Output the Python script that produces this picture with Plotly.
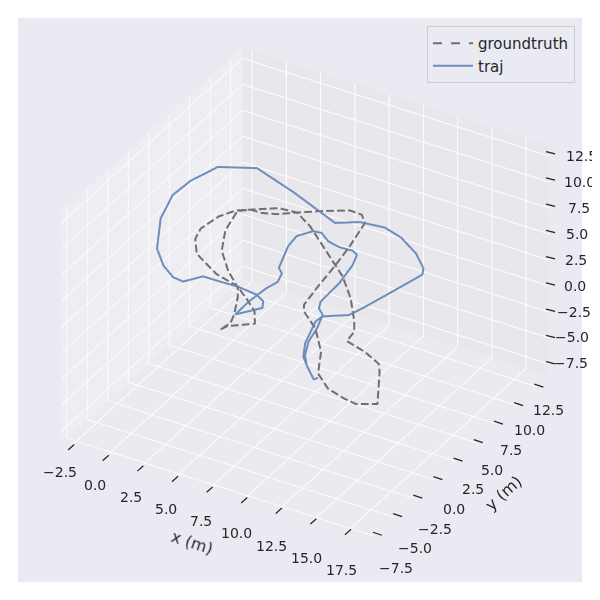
import math
import plotly.graph_objects as go

x_ticks=[-2.5,0,2.5,5,7.5,10,12.5,15,17.5]
y_ticks=[-7.5,-5,-2.5,0,2.5,5,7.5,10,12.5]
z_ticks=[-7.5,-5,-2.5,0,2.5,5,7.5,10,12.5]

gx=[4.79,5.02,6.42,5.91,4.93,3.97,2.4,0.55,-0.11,-0.23,0.29,0.97,1.74,3.21,4.37,5.61,7.47,9.33,10.62,11.73,12.11,12.07,13.47,14.68,15.05,16.18,15.01,14.18,12.89,11.78,11.09,9.87,8.6,8.34,8.39,8.5,8.54,8.46,7.96,7.17,5.75,4.37,3.35,2.5,1.74,1.08,1.19,1.78,2.91,4.09,4.47,4.93,5.07,4.79]
gy=[-2.08,-1.65,-0.63,0.17,0.77,1.26,1.39,2.09,3.01,3.84,5.22,6.12,6.66,7.65,7.93,7.45,6.33,5.21,4.03,2.62,1.97,1.13,1.0,0.66,0.15,-2.0,-2.68,-2.7,-2.55,-1.89,-0.37,0.97,1.71,2.15,3.93,5.6,7.39,9.38,9.83,9.74,8.87,7.93,7.2,6.8,6.66,6.14,4.5,3.08,1.97,1.18,0.53,-0.67,-1.33,-2.08]
gz=[1.27,1.38,1.47,1.88,2.33,2.72,3.11,3.77,4.27,4.6,5.02,5.22,5.25,5.3,5.16,4.72,3.88,3.05,2.33,1.55,1.22,0.91,0.55,0.16,-0.12,-1.17,-1.17,-1.0,-0.67,-0.17,0.55,1.33,1.88,2.11,2.77,3.38,4.05,4.83,5.1,5.24,5.22,5.16,5.1,5.14,5.25,5.19,4.55,3.88,3.22,2.66,2.33,1.77,1.5,1.27]

tx=[4.99,6.21,5.99,5.34,4.05,2.86,1.77,0.89,0.18,-0.8,-1.8,-2.78,-3.04,-2.63,-1.69,0.48,3.42,6.84,8.15,9.71,11.0,12.41,13.4,13.58,12.5,11.63,11.17,10.47,9.78,9.62,9.9,10.32,10.83,11.77,11.94,11.77,10.83,10.35,10.02,9.96,9.75,9.28,9.12,9.41,9.43,9.26,8.89,8.04,7.18,6.5,5.98,5.27,5.2,5.54,5.92,6.03,5.65,5.24,4.99]
ty=[-0.65,0.64,1.1,1.31,1.25,1.01,0.82,-0.15,-0.17,0.28,1.17,3.25,5.15,6.64,8.41,9.56,9.14,8.45,9.29,9.72,9.57,9.01,8.26,7.83,5.55,3.74,2.88,2.43,1.95,1.41,-0.32,-1.25,-1.7,-2.41,-2.17,-2.41,-1.7,-1.09,-0.11,1.03,2.08,2.39,2.88,4.66,6.28,7.06,7.2,7.01,7.04,7.38,7.23,6.39,5.47,3.77,3.49,2.81,2.01,0.66,-0.65]
tz=[1.77,1.99,2.22,2.44,2.69,2.86,3.03,2.85,2.99,3.38,3.94,4.94,5.72,6.19,6.66,6.63,5.83,4.83,4.86,4.68,4.35,3.83,3.33,3.13,2.49,1.99,1.77,1.75,1.72,1.55,0.83,0.38,0.11,-0.37,-0.32,-0.37,0.11,0.44,0.88,1.33,1.77,1.99,2.22,2.83,3.44,3.77,3.91,4.02,4.22,4.49,4.55,4.38,4.05,3.33,3.14,2.86,2.64,2.22,1.77]

X0,X1=-3.2,19.2
Y0,Y1=-8.23,13.95
Z0,Z1=-8.65,13.55
A=358; AZR=0.768; BASE=283
el=math.radians(32); az=math.radians(-60)
CX,CY=306,293
GRAY="#6F6F73"; BLUE="#6E8DBE"; INK="#262626"

Lx,Ly,Lz=X1-X0,Y1-Y0,Z1-Z0
xc,yc,zc=(X0+X1)/2,(Y0+Y1)/2,(Z0+Z1)/2
Rv=(-math.sin(az),math.cos(az))
U=(-math.sin(el)*math.cos(az),-math.sin(el)*math.sin(az),math.cos(el))

def project(x,y,z):
    X=(x-xc)/Lx*A; Y=(y-yc)/Ly*A; Z=(z-zc)/Lz*A*AZR
    return CX-8+Rv[0]*X+Rv[1]*Y, CY-8-(U[0]*X+U[1]*Y+U[2]*Z)

def dashes(xs,ys,zs,on=7.7,off=3.3):
    ox,oy,oz=[xs[0]],[ys[0]],[zs[0]]
    state=True; left=on
    for i in range(len(xs)-1):
        a=(xs[i],ys[i],zs[i]); b=(xs[i+1],ys[i+1],zs[i+1])
        pa_,pb_=project(*a),project(*b)
        L=math.hypot(pb_[0]-pa_[0],pb_[1]-pa_[1]); d=0.0
        while L-d>left:
            d+=left; t=d/L; p=[a[k]+(b[k]-a[k])*t for k in range(3)]
            if state:
                ox+=[p[0],None]; oy+=[p[1],None]; oz+=[p[2],None]
            else:
                ox.append(p[0]); oy.append(p[1]); oz.append(p[2])
            state=not state; left=on if state else off
        left-=L-d
        if state:
            ox.append(b[0]); oy.append(b[1]); oz.append(b[2])
    return ox,oy,oz

dx_,dy_,dz_=dashes(gx,gy,gz)
fig=go.Figure()
fig.add_trace(go.Scatter3d(x=dx_,y=dy_,z=dz_,mode="lines",showlegend=False,line=dict(color=GRAY,width=4)))
fig.add_trace(go.Scatter3d(x=tx,y=ty,z=tz,mode="lines",showlegend=False,line=dict(color=BLUE,width=4)))
fig.add_trace(go.Scatter3d(x=gx[:1],y=gy[:1],z=gz[:1],mode="lines",name="groundtruth",line=dict(color=GRAY,dash="dash",width=2)))
fig.add_trace(go.Scatter3d(x=tx[:1],y=ty[:1],z=tz[:1],mode="lines",name="traj",line=dict(color=BLUE,width=2)))

def ax(t):
    return dict(gridcolor="white",gridwidth=2,showbackground=True,zeroline=False,showline=False,showspikes=False,ticks="",tickvals=t,showticklabels=False,title="")

sa=dict(showarrow=False,font=dict(family="DejaVu Sans",size=14,color=INK))
fmt=lambda v:("%.1f"%v).replace("-","\u2212")
def label(x,y,z,v,d0,d1,fr):
    p=project(x,y,z)
    tx_=d0[0]+(d1[0]-d0[0])*fr; ty_=d0[1]+(d1[1]-d0[1])*fr
    return dict(x=x,y=y,z=z,text=fmt(v),xshift=tx_-(p[0]+8),yshift=-(ty_-(p[1]+8)),**sa)
ann=[label(v,Y0,Z0,v,(61,473),(345,568),(v+2.5)/20) for v in x_ticks]
ann+=[label(X1,v,Z0,v,(400,566),(550,409),(v+7.5)/20) for v in y_ticks]
ann+=[label(X1,Y1,v,v,(572,362),(582,153),(v+7.5)/20) for v in z_ticks]

tf=dict(family="DejaVu Sans",size=16,color=INK)
common=dict(xref="paper",yref="paper",xanchor="center",yanchor="middle",showarrow=False,font=tf)
pa=[dict(x=(192-8)/600,y=1-(542-8)/600,text="x (m)",textangle=18,**common),
    dict(x=(503-8)/600,y=1-(493-8)/600,text="y (m)",textangle=-42,**common),
    dict(x=(606-8)/600,y=1-(246-8)/600,text="z (m)",textangle=-88,**common)]

R=2
eye=(R*math.cos(el)*math.cos(az),R*math.cos(el)*math.sin(az),R*math.sin(el))
fig.update_layout(width=600,height=600,margin=dict(l=0,r=0,t=0,b=0),paper_bgcolor="white",annotations=pa,
 legend=dict(x=567/600,xanchor="right",y=1-18/600,yanchor="top",bgcolor="#EAEAF2",bordercolor="#CCCCCC",borderwidth=1,itemwidth=40,font=dict(family="DejaVu Sans",size=15,color=INK)),
 scene=dict(domain=dict(x=[10/600,574/600],y=[26/600,590/600]),bgcolor="#EAEAF2",aspectmode="manual",aspectratio=dict(x=A/BASE,y=A/BASE,z=AZR*A/BASE),
  xaxis=dict(range=[X0,X1],backgroundcolor="#EEEEF2",**ax(x_ticks)),
  yaxis=dict(range=[Y0,Y1],backgroundcolor="#E8E8EC",**ax(y_ticks)),
  zaxis=dict(range=[Z0,Z1],backgroundcolor="#EBEBEF",**ax(z_ticks)),
  annotations=ann,
  camera=dict(projection=dict(type="orthographic"),center=dict(x=-0.0105,y=-0.0183,z=-0.017),eye=dict(x=eye[0],y=eye[1],z=eye[2]))))

def tick(p,a,b):
    fig.add_shape(type="line",xref="paper",yref="paper",x0=(p[0]-a)/600,x1=(p[0]+a)/600,y0=1-(p[1]-b)/600,y1=1-(p[1]+b)/600,line=dict(color=INK,width=1.3))
for v in x_ticks: tick(project(v,Y0,Z0),3,-2.7)
for v in y_ticks: tick(project(X1,v,Z0),4.5,1.5)
for v in z_ticks: tick(project(X1,Y1,v),4.5,1.2)
fig.write_html("out.html")
